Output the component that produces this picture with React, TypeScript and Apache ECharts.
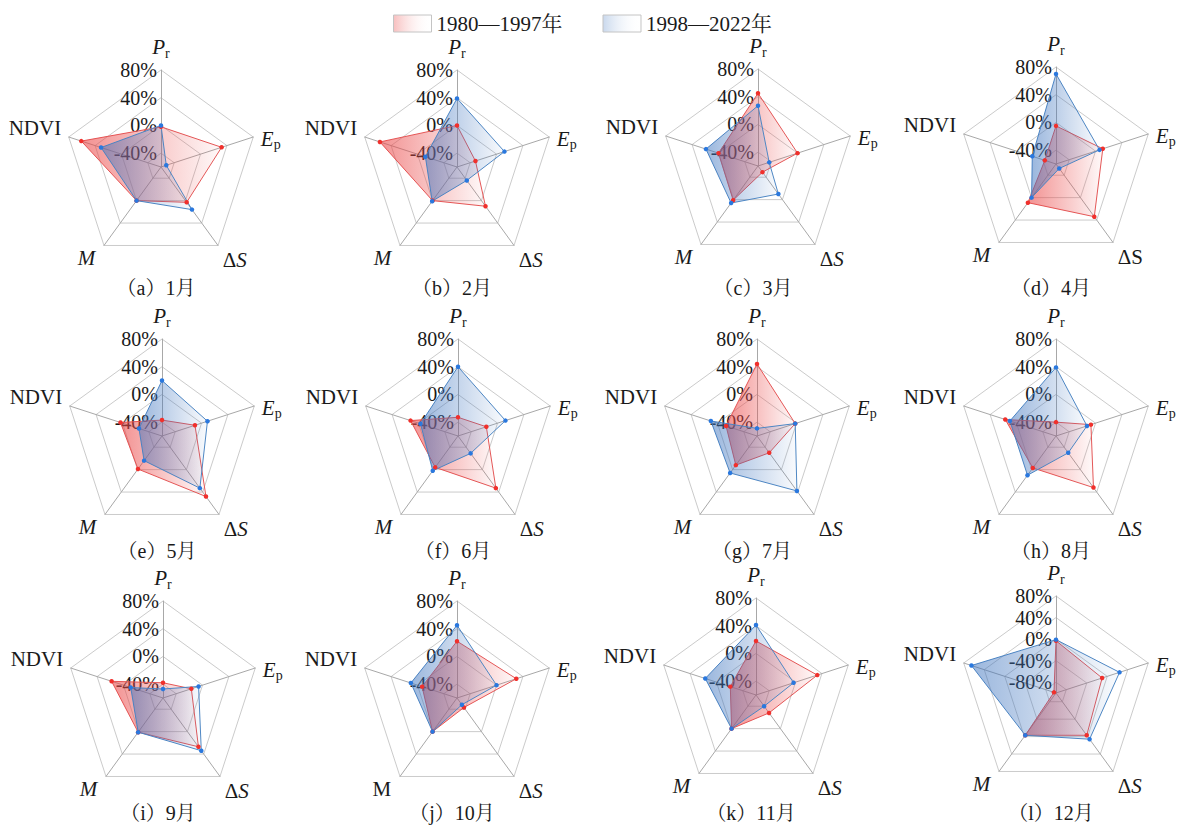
import React, { useEffect, useRef } from 'react';
import * as echarts from 'echarts';

// indicator keys, clockwise from the top axis
const INDICATORS = ['Pr', 'Ep', 'dS', 'M', 'NDVI'];
const SERIES_NAMES = ['1980—1997年', '1998—2022年'];
const PANEL_LETTERS = ['a', 'b', 'c', 'd', 'e', 'f', 'g', 'h', 'i', 'j', 'k', 'l'];
const MONTHS = [1, 2, 3, 4, 5, 6, 7, 8, 9, 10, 11, 12];

// values (%) per month, order: Pr, Ep, ΔS, M, NDVI
const EARLY = [
  [-2, 32, 3, 0, 61],
  [0, -32, 10, 0, 57],
  [45, 0, -49, 1, 0],
  [-5, 11, 34, 9, -43],
  [-37, -10, 48, -1, 3],
  [-33, -17, 33, -4, 12],
  [44, -2, -30, -8, -13],
  [-40, -7, 32, -3, 17],
  [-38, -17, 27, 1, 18],
  [22, 30, -43, 0, -7],
  [18, 33, -28, 0, -21],
  [-3, -10, -3, -3, -96],
];
const LATE = [
  [0, -52, 16, 0, 31],
  [39, 12, -36, 1, -12],
  [27, -43, -10, 6, 19],
  [70, 6, -52, 0, -24],
  [20, 9, 33, -16, -25],
  [40, 12, -29, 2, -3],
  [-49, -2, 38, 6, 10],
  [39, -13, -30, 10, 10],
  [-47, -6, 34, 1, -11],
  [45, 0, -48, 0, 10],
  [41, -3, -40, 0, 17],
  [-1, 24, 6, -3, 65],
];

// axis range per panel and the labelled tick values
const AXIS_MIN = [-60, -60, -60, -60, -60, -60, -60, -60, -60, -60, -60, -100];
const AXIS_MAX = 80;
const HALF_STEP = 20;
const LABELED_TICKS = [-80, -40, 0, 40, 80];

// layout
const CENTER_X = [161, 457, 758, 1056, 162, 458, 757, 1056, 163, 457, 756, 1056];
const CENTER_Y = [167, 167, 166, 164, 436, 436, 436, 436, 698, 698, 695, 693];
const CAPTION_Y = [289, 289, 289, 289, 552, 552, 552, 552, 814, 814, 814, 814];
const CAPTION_DX = -5;
const RADIUS = 97;

const FONT = "'Liberation Serif', 'Times New Roman', 'Noto Serif CJK SC', 'Noto Sans CJK SC', serif";
const TEXT = '#1a1a1a';

// ECharts places indicators counter-clockwise from the top
const ECHARTS_ORDER = [0, 4, 3, 2, 1];

const redArea = {
  type: 'linear', x: 0, y: 0, x2: 1, y2: 0,
  colorStops: [
    { offset: 0, color: 'rgba(234,72,72,0.6)' },
    { offset: 1, color: 'rgba(234,72,72,0.03)' },
  ],
};
const blueArea = {
  type: 'linear', x: 0, y: 0, x2: 1, y2: 0,
  colorStops: [
    { offset: 0, color: 'rgba(62,116,190,0.52)' },
    { offset: 1, color: 'rgba(62,116,190,0.03)' },
  ],
};
const STYLES = [
  { line: '#e45858', point: '#f0302c', area: redArea, legendTint: 'rgba(234,72,72,0.35)' },
  { line: '#4f88c4', point: '#2a78de', area: blueArea, legendTint: 'rgba(62,116,190,0.28)' },
];

// name nudges per indicator: [top pad, right pad, bottom pad]
const NAME_PAD: Record<string, number[]> = {
  Pr: [0, 0, 0],
  Ep: [8, 0, 0],
  dS: [16, 0, 0],
  M: [12, 4, 0],
  NDVI: [0, 0, 14],
};
const SUB_DROP = 12;

function richSet(prefix: string, pad: number[]) {
  const main: any = pad.some((v) => v !== 0) ? { padding: [pad[0], pad[1], pad[2], 0] } : {};
  return {
    [`${prefix}i`]: { fontFamily: FONT, fontSize: 21, fontStyle: 'italic', color: TEXT, lineHeight: 21, ...main },
    [`${prefix}n`]: { fontFamily: FONT, fontSize: 21, color: TEXT, lineHeight: 21, ...main },
    [`${prefix}s`]: { fontFamily: FONT, fontSize: 14, color: TEXT, lineHeight: 21, padding: [pad[0] + SUB_DROP, 0, 0, 0] },
  };
}

const RICH = Object.assign({}, ...INDICATORS.map((k) => richSet(k, NAME_PAD[k])));

function indicatorName(key: string, panel: number): string {
  const t = (style: string, s: string) => `{${key}${style}|${s}}`;
  if (key === 'Pr') return t('i', 'P') + t('s', 'r');
  if (key === 'Ep') return t('i', 'E') + t('s', 'p');
  if (key === 'dS') return panel === 3 ? t('n', 'ΔS') : t('n', 'Δ') + t('i', 'S');
  if (key === 'M') return panel === 9 ? t('n', 'M') : t('i', 'M');
  return t('n', 'NDVI');
}

function buildOption() {
  const radar = MONTHS.map((_, p) => {
    const min = AXIS_MIN[p];
    const split = (AXIS_MAX - min) / HALF_STEP;
    return {
      center: [CENTER_X[p], CENTER_Y[p]],
      radius: RADIUS,
      startAngle: 90,
      shape: 'polygon',
      splitNumber: split,
      axisNameGap: 8,
      axisName: {
        color: TEXT,
        fontFamily: FONT,
        fontSize: 21,
        rich: RICH,
      },
      indicator: ECHARTS_ORDER.map((k) => {
        const key = INDICATORS[k];
        const ind: any = { name: indicatorName(key, p), min, max: AXIS_MAX };
        if (key === 'Pr') {
          ind.axisLabel = {
            show: true,
            fontFamily: FONT,
            fontSize: 20,
            color: TEXT,
            margin: 4,
            padding: [6, 0, 0, 0],
            formatter: (v: number) => (LABELED_TICKS.indexOf(Math.round(v)) >= 0 ? `${Math.round(v)}%` : ''),
          };
        }
        return ind;
      }),
      axisLabel: { show: false },
      axisTick: { show: false },
      axisLine: { lineStyle: { color: '#a8a8a8', width: 1 } },
      splitLine: { lineStyle: { color: ['rgba(0,0,0,0)', '#cbcbcb'], width: 1 } },
      splitArea: { show: false },
    };
  });

  const series = MONTHS.map((_, p) => ({
    type: 'radar',
    radarIndex: p,
    silent: true,
    symbol: 'circle',
    symbolSize: 4.5,
    z: 2,
    data: [EARLY[p], LATE[p]].map((vals, s) => ({
      name: SERIES_NAMES[s],
      value: ECHARTS_ORDER.map((k) => vals[k]),
      itemStyle: { color: STYLES[s].point },
      lineStyle: { color: STYLES[s].line, width: 1 },
      areaStyle: { color: STYLES[s].area, opacity: 1 },
    })),
  }));

  const title = MONTHS.map((m, p) => ({
    text: `（${PANEL_LETTERS[p]}）${m}月`,
    left: CENTER_X[p] + CAPTION_DX,
    top: CAPTION_Y[p] - 11,
    textAlign: 'center',
    padding: 0,
    textStyle: { fontFamily: FONT, fontSize: 20, fontWeight: 'normal', color: TEXT },
  }));

  return {
    animation: false,
    backgroundColor: '#ffffff',
    title,
    legend: {
      left: 393,
      top: 13,
      padding: 0,
      itemWidth: 38,
      itemHeight: 17,
      itemGap: 40,
      selectedMode: false,
      textStyle: { fontFamily: FONT, fontSize: 21, color: TEXT },
      data: SERIES_NAMES.map((n, s) => ({
        name: n,
        icon: 'rect',
        itemStyle: {
          color: {
            type: 'linear', x: 0, y: 0, x2: 1, y2: 0,
            colorStops: [
              { offset: 0, color: STYLES[s].legendTint },
              { offset: 1, color: 'rgba(255,255,255,0)' },
            ],
          },
          borderColor: '#c4c4c4',
          borderWidth: 1,
        },
      })),
    },
    radar,
    series,
  };
}

export default function App() {
  const ref = useRef<HTMLDivElement>(null);
  useEffect(() => {
    document.body.style.margin = '0';
    const chart = echarts.init(ref.current as HTMLDivElement, null, { renderer: 'svg' });
    chart.setOption(buildOption() as any);
    return () => chart.dispose();
  }, []);
  return <div ref={ref} style={{ width: 1183, height: 829, background: '#fff' }} />;
}
